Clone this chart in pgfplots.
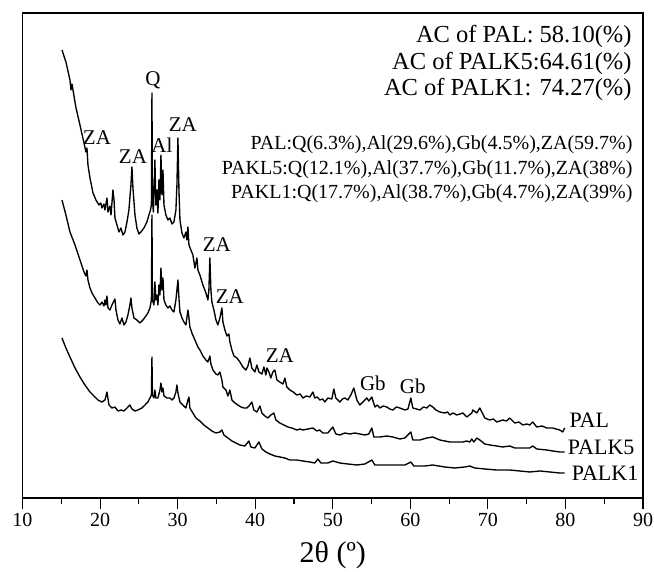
\documentclass[border=0pt]{standalone}
\usepackage{pgfplots}
\pgfplotsset{compat=1.18}
\usepackage{fontspec}
\setmainfont{Liberation Serif}
\begin{document}
\begin{tikzpicture}
\path[use as bounding box] (0,0) rectangle (654pt,572pt);
\begin{axis}[
  at={(22.5pt,74pt)}, anchor=south west,
  scale only axis, width=620.5pt, height=485pt,
  xmin=10, xmax=90, ymin=0, ymax=485,
  xtick={10,20,...,90}, minor x tick num=1,
  ytick=\empty,
  xtick pos=bottom, tick align=outside,
  major tick length=11pt, minor tick length=6pt,
  axis line style={line width=1.2pt},
  every tick/.style={black, line width=1.1pt},
  /pgf/number format/assume math mode=true,
  ticklabel style={font=\fontsize{20}{22}\selectfont},
  xticklabel style={yshift=-1pt},
  xlabel={2θ (º)},
  xlabel style={font=\fontsize{30}{34}\selectfont, at={(axis description cs:0.5,0)}, anchor=center, yshift=-57pt},
  clip=false,
]
% PAL
\addplot[black, line width=1.35pt, line join=round] coordinates {
(15.09,448)(15.60,436)(16.12,418)(16.25,408)(16.38,414)(16.90,390)(17.41,373)(17.93,355)(18.18,346)(18.31,350)(18.44,333)(18.70,320)(19.09,305)(19.47,298)(19.86,293)(20.10,295)(20.24,290)(20.50,294)(20.63,288)(20.89,300)(21.02,286)(21.28,292)(21.41,283)(21.66,308)(21.80,298)(21.92,280)(22.18,273)(22.44,266)(22.69,270)(22.95,263)(23.21,266)(23.47,276)(23.72,288)(23.98,313)(24.11,331)(24.24,310)(24.50,283)(24.75,270)(25.01,264)(25.27,266)(25.66,270)(26.04,276)(26.30,283)(26.50,288)(26.62,293)(26.69,405)(26.75,298)(26.88,286)(27.07,338)(27.20,293)(27.33,308)(27.46,285)(27.59,318)(27.72,298)(27.85,343)(27.98,303)(28.11,328)(28.24,293)(28.49,283)(28.75,278)(29.01,280)(29.27,274)(29.52,276)(29.78,288)(29.91,313)(30.04,360)(30.17,308)(30.30,278)(30.56,265)(30.81,260)(31.07,266)(31.20,258)(31.33,271)(31.46,253)(31.71,248)(31.97,243)(32.23,230)(32.49,240)(32.62,228)(32.87,223)(33.26,213)(33.65,205)(33.90,198)(34.03,208)(34.16,240)(34.29,208)(34.42,196)(34.68,188)(34.94,178)(35.19,173)(35.45,180)(35.71,190)(35.84,176)(36.10,168)(36.35,162)(36.61,164)(36.74,156)(37.00,148)(37.26,142)(37.64,140)(38.03,136)(38.41,131)(38.80,128)(39.06,132)(39.32,140)(39.57,130)(39.96,126)(40.22,133)(40.48,126)(40.87,124)(41.12,131)(41.38,123)(41.51,130)(41.77,126)(42.02,120)(42.28,126)(42.54,128)(42.80,118)(43.18,116)(43.57,114)(43.83,120)(44.08,111)(44.47,108)(44.90,106)(45.37,103)(45.80,104)(46.15,100)(46.60,102)(47.05,101)(47.44,106)(47.69,100)(48.00,101)(48.34,98)(48.70,99)(48.98,96)(49.37,100)(49.88,99)(50.14,109)(50.40,100)(50.92,96)(51.25,99)(51.56,100)(51.95,98)(52.33,103)(52.72,110)(53.11,98)(53.49,93)(53.88,96)(54.40,100)(54.65,97)(55.04,101)(55.43,91)(55.75,93)(56.07,90)(56.50,92)(56.97,91)(57.35,89)(57.75,88)(58.20,91)(58.65,90)(59.29,88)(59.70,89)(60.07,100)(60.32,90)(60.80,89)(61.23,88)(61.70,91)(62.13,90)(62.50,93)(62.90,91)(63.30,88)(63.80,86)(64.45,85)(64.80,86)(65.09,83)(65.50,85)(65.99,83)(66.40,84)(66.77,85)(67.28,81)(67.93,85)(68.06,88)(68.57,85)(68.96,90)(69.60,80)(70.25,78)(70.70,79)(71.15,76)(71.92,78)(72.40,77)(72.82,80)(73.47,75)(74.00,76)(74.50,73)(75.00,74)(75.40,73)(75.79,76)(76.30,71)(77.00,72)(77.59,70)(78.36,70)(78.80,69)(79.27,68)(79.65,66)(79.91,70)
};
% PALK5
\addplot[black, line width=1.35pt, line join=round] coordinates {
(15.09,298)(15.60,283)(16.12,266)(16.77,253)(17.41,238)(17.93,226)(18.18,222)(18.31,228)(18.44,218)(18.70,210)(18.96,205)(19.34,200)(19.73,195)(19.99,193)(20.24,196)(20.50,192)(20.63,198)(20.76,193)(20.89,202)(21.02,190)(21.28,188)(21.53,193)(21.92,199)(22.05,188)(22.31,178)(22.56,174)(22.82,180)(23.08,173)(23.34,176)(23.59,183)(23.85,193)(23.98,200)(24.11,190)(24.37,180)(24.75,178)(25.14,175)(25.53,178)(25.91,182)(26.17,185)(26.43,190)(26.62,198)(26.69,283)(26.75,198)(26.95,193)(27.07,216)(27.20,198)(27.33,203)(27.46,193)(27.59,213)(27.72,203)(27.85,230)(27.98,208)(28.11,220)(28.24,198)(28.49,193)(28.75,190)(29.01,192)(29.27,188)(29.52,186)(29.78,198)(29.91,208)(30.04,218)(30.17,200)(30.30,186)(30.56,180)(30.81,176)(31.07,173)(31.33,188)(31.46,180)(31.58,171)(31.84,165)(32.23,158)(32.62,151)(32.87,148)(33.26,142)(33.65,138)(33.90,136)(34.16,142)(34.29,134)(34.55,128)(34.94,124)(35.19,123)(35.45,126)(35.71,118)(35.84,111)(36.23,108)(36.48,102)(36.74,108)(37.00,98)(37.39,95)(37.77,93)(38.16,91)(38.54,90)(38.93,90)(39.19,92)(39.57,96)(39.83,88)(40.22,86)(40.61,92)(40.87,85)(41.25,82)(41.64,80)(42.02,83)(42.41,85)(42.67,78)(43.18,75)(43.70,73)(44.21,71)(44.73,70)(45.37,68)(45.80,69)(46.15,68)(46.79,69)(47.44,70)(47.95,67)(48.30,68)(48.73,65)(49.37,65)(50.01,71)(50.40,64)(50.92,63)(51.56,65)(52.20,64)(52.85,65)(53.49,64)(54.14,63)(54.65,64)(55.04,70)(55.30,61)(56.07,61)(56.97,62)(57.75,61)(58.65,59)(59.29,60)(60.07,66)(60.32,58)(61.23,58)(62.13,60)(62.90,61)(63.80,58)(64.45,57)(65.09,56)(65.99,56)(66.77,56)(67.28,57)(67.67,56)(67.93,59)(68.19,56)(68.57,60)(68.96,58)(69.60,54)(70.25,53)(71.15,52)(71.92,51)(72.82,52)(73.47,50)(74.50,50)(75.40,50)(75.79,52)(76.30,49)(77.59,48)(78.36,47)(79.27,46)(79.91,46)
};
% PALK1
\addplot[black, line width=1.35pt, line join=round] coordinates {
(15.09,160)(15.60,150)(16.12,141)(16.77,130)(17.41,121)(18.05,113)(18.70,106)(19.34,101)(19.73,98)(20.24,96)(20.63,98)(20.89,106)(21.15,93)(21.53,90)(21.92,91)(22.31,87)(22.69,88)(23.08,87)(23.47,90)(23.85,93)(24.11,89)(24.50,87)(24.88,88)(25.40,90)(25.79,93)(26.17,96)(26.43,100)(26.62,103)(26.69,141)(26.75,103)(26.95,100)(27.07,108)(27.20,100)(27.46,100)(27.72,108)(27.85,115)(27.98,106)(28.11,110)(28.24,102)(28.62,100)(29.01,100)(29.27,98)(29.52,100)(29.78,106)(29.91,113)(30.04,105)(30.30,96)(30.68,93)(31.07,90)(31.33,98)(31.46,101)(31.58,90)(31.97,85)(32.36,80)(32.87,77)(33.39,73)(33.90,70)(34.42,67)(34.94,65)(35.45,66)(35.71,68)(35.97,63)(36.48,60)(37.00,57)(37.51,55)(38.03,53)(38.67,52)(39.19,57)(39.45,51)(39.96,50)(40.48,56)(40.87,49)(41.38,46)(41.90,44)(42.54,42)(43.18,41)(43.83,40)(44.47,38)(45.37,38)(46.15,37)(47.05,36)(47.69,35)(48.08,39)(48.47,35)(49.37,35)(50.01,37)(50.92,35)(51.95,34)(53.11,33)(54.14,34)(55.04,38)(55.43,33)(56.71,33)(58.00,33)(59.29,33)(60.07,36)(60.45,32)(61.87,32)(62.90,33)(64.45,31)(65.74,30)(67.02,31)(67.67,32)(68.31,30)(69.60,29)(71.15,28)(72.82,28)(74.11,27)(75.40,26)(76.69,27)(77.98,26)(79.27,25)(79.91,25)
};
% peak labels
\begin{scope}[every node/.style={font=\fontsize{21}{24}\selectfont, inner sep=0pt}]
\node at (axis cs:26.82,418) {Q};
\node at (axis cs:19.60,360) {ZA};
\node at (axis cs:24.24,341) {ZA};
\node at (axis cs:27.98,353) {Al};
\node at (axis cs:30.68,373) {ZA};
\node at (axis cs:35.06,253) {ZA};
\node at (axis cs:36.74,201) {ZA};
\node at (axis cs:43.18,142) {ZA};
\node at (axis cs:55.17,115) {Gb};
\node at (axis cs:60.32,112) {Gb};
\end{scope}
\begin{scope}[every node/.style={font=\fontsize{22}{25}\selectfont, inner sep=0pt, anchor=west}]
\node at (axis cs:80.5,78) {PAL};
\node at (axis cs:80.3,51) {PALK5};
\node at (axis cs:80.8,25) {PALK1};
\end{scope}
\begin{scope}[every node/.style={font=\fontsize{24.5}{28}\selectfont, inner sep=0pt, anchor=east}]
\node at (axis cs:88.55,462) {AC of PAL: 58.10(\%)};
\node at (axis cs:88.55,435) {AC of PALK5:64.61(\%)};
\node at (axis cs:88.55,409) {AC of PALK1: 74.27(\%)};
\end{scope}
\begin{scope}[every node/.style={font=\fontsize{20}{23}\selectfont, inner sep=0pt, anchor=east}]
\node at (axis cs:88.68,353) {PAL:Q(6.3\%),Al(29.6\%),Gb(4.5\%),ZA(59.7\%)};
\node at (axis cs:88.68,328) {PAKL5:Q(12.1\%),Al(37.7\%),Gb(11.7\%),ZA(38\%)};
\node at (axis cs:88.68,304) {PAKL1:Q(17.7\%),Al(38.7\%),Gb(4.7\%),ZA(39\%)};
\end{scope}
\end{axis}
\end{tikzpicture}
\end{document}
